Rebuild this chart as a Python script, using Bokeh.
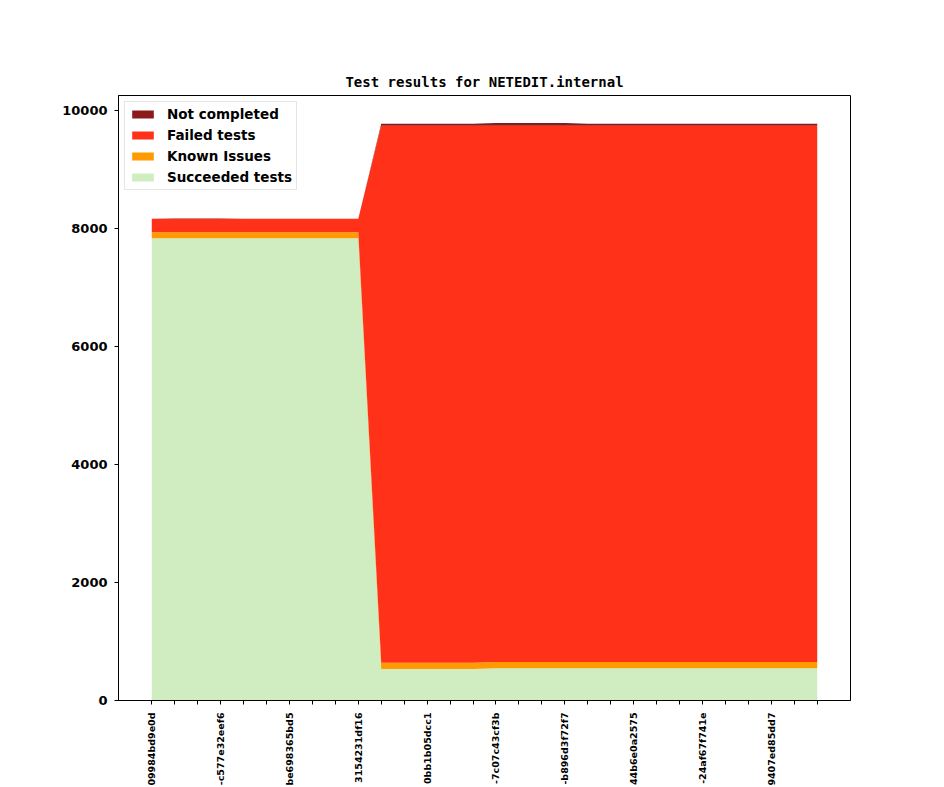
import math
from bokeh.plotting import figure
from bokeh.models import ColumnDataSource, Legend, LegendItem, FixedTicker, Range1d
from bokeh.embed import file_html
from bokeh.resources import INLINE

# ---- data ----
tick_labels = ["09984bd9e0d", "-c577e32eef6", "be698365bd5", "3154231df16",
               "0bb1b05dcc1", "-7c07c43cf3b", "-b896d3f72f7", "44b6e0a2575",
               "-24af67f741e", "9407ed85dd7"]
builds = list(range(30))
succeeded = [7835] * 10 + [532] * 5 + [545] * 15
known_issues = [100] * 10 + [108] * 5 + [108] * 15
failed = [229, 227, 227, 227, 229, 229, 229, 229, 229, 229] + [9100] * 5 + [9087] * 15
not_completed = [3, 8, 8, 8, 3, 3, 3, 3, 3, 3] + [35] * 5 + [50] * 4 + [35] * 11
series_names = ["Succeeded tests", "Known Issues", "Failed tests", "Not completed"]
series_colors = ["#CFEDC0", "#FF9A00", "#FF3119", "#8B1A1A"]

source = ColumnDataSource(dict(x=builds, s=succeeded, k=known_issues,
                               f=failed, n=not_completed))

p = figure(frame_width=732, frame_height=605, output_backend="svg",
           toolbar_location=None,
           x_range=Range1d(-1.45, 30.45), y_range=Range1d(0, 10254),
           min_border_left=118, min_border_right=86,
           min_border_top=95, min_border_bottom=79,
           title="Test results for NETEDIT.internal")

renderers = p.varea_stack(stackers=["s", "k", "f", "n"], x="x", source=source,
                          color=series_colors)

items = [LegendItem(label=name, renderers=[r])
         for name, r in zip(series_names, renderers)]
legend = Legend(items=list(reversed(items)), location="top_left")
legend.margin = 6
legend.padding = 4
legend.spacing = 5
legend.glyph_width = 27
legend.glyph_height = 10
legend.label_height = 10
legend.label_standoff = 11
legend.label_text_font = "DejaVu Sans"
legend.label_text_font_style = "bold"
legend.label_text_font_size = "13.5px"
legend.label_text_color = "black"
legend.border_line_color = "#cccccc"
legend.border_line_width = 1
legend.background_fill_alpha = 0.8
p.add_layout(legend, "center")

p.title.align = "center"
p.title.text_font = "DejaVu Sans Mono"
p.title.text_font_style = "bold"
p.title.text_font_size = "14px"
p.title.text_color = "black"
p.title.standoff = 12

p.xgrid.visible = False
p.ygrid.visible = False
p.outline_line_color = "black"
p.outline_line_width = 1
p.background_fill_color = "white"
p.border_fill_color = "white"

xa = p.xaxis[0]
xa.ticker = FixedTicker(ticks=builds)
xa.major_label_overrides = {i: (tick_labels[i // 3] if i % 3 == 0 else "") for i in builds}
xa.major_label_orientation = math.pi / 2
xa.major_label_text_font = "DejaVu Sans"
xa.major_label_text_font_style = "bold"
xa.major_label_text_font_size = "9.5px"
xa.major_label_text_color = "black"
xa.major_label_standoff = 8
xa.minor_tick_line_color = None
xa.major_tick_out = 4
xa.major_tick_in = 0
xa.axis_line_color = "black"
xa.major_tick_line_color = "black"

ya = p.yaxis[0]
ya.ticker = FixedTicker(ticks=[0, 2000, 4000, 6000, 8000, 10000])
ya.major_label_text_font = "DejaVu Sans"
ya.major_label_text_font_style = "bold"
ya.major_label_text_font_size = "13px"
ya.major_label_text_color = "black"
ya.major_label_standoff = 7
ya.minor_tick_line_color = None
ya.major_tick_out = 4
ya.major_tick_in = 0
ya.axis_line_color = "black"
ya.major_tick_line_color = "black"

open("out.html", "w").write(file_html(p, INLINE))
